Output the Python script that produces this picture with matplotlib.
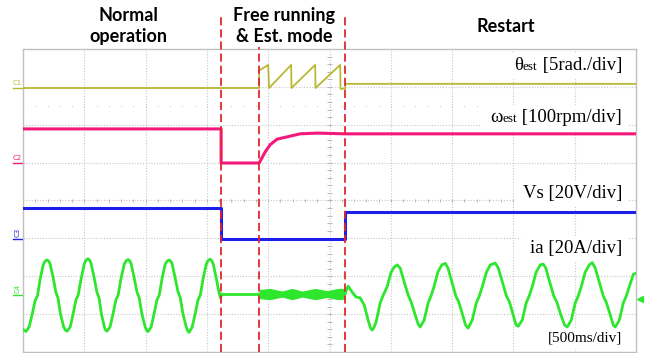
import numpy as np
import matplotlib.pyplot as plt
from matplotlib.patches import Rectangle
from matplotlib.transforms import Bbox

# scope capture: x in ms (500 ms/div, 10 div), y in screen divisions (8 div)
t_events = [1616, 1926, 2628]          # free running / estimation / restart
dash_top = [8.9, 8.05, 8.9]

# C1 theta_est
c1_t = [0, 1926, 1926, 2000, 2007, 2187, 2190, 2383, 2386, 2587, 2590, 2628, 2628, 5000]
c1_y = [6.97, 6.97, 7.43, 7.58, 6.97, 7.58, 6.97, 7.58, 6.97, 7.58, 6.95, 6.95, 7.08, 7.08]

# C2 omega_est
c2_t = [0, 1616, 1616, 1926, 1950, 1975, 2015, 2073, 2154, 2260, 2399, 2628, 5000]
c2_y = [5.89, 5.89, 4.99, 4.99, 5.13, 5.28, 5.47, 5.62, 5.68, 5.76, 5.78, 5.76, 5.76]

# C3 Vs
c3_t = [0, 1616, 1616, 2628, 2628, 5000]
c3_y = [3.80, 3.80, 2.98, 2.98, 3.69, 3.69]

# C4 ia
ia_normal = [(0, 0.60), (24, 0.54), (50, 0.66), (75, 1.00), (100, 1.37), (118, 1.48), (140, 1.93),
             (165, 2.30), (180, 2.40), (196, 2.43), (210, 2.40), (220, 2.33), (245, 1.98), (268, 1.58),
             (285, 1.43), (305, 1.02), (330, 0.68), (345, 0.58), (359, 0.55),
             (385, 0.66), (410, 1.02), (432, 1.38), (450, 1.50), (475, 1.95), (500, 2.33), (515, 2.43),
             (530, 2.46), (545, 2.42), (555, 2.34), (580, 1.97), (603, 1.58), (620, 1.43), (640, 1.00),
             (662, 0.68), (673, 0.58), (685, 0.55),
             (710, 0.66), (735, 1.02), (758, 1.38), (776, 1.50), (800, 1.95), (826, 2.32), (842, 2.41),
             (857, 2.44), (870, 2.41), (882, 2.33), (906, 1.97), (930, 1.58), (948, 1.43), (970, 1.00),
             (995, 0.68), (1008, 0.57), (1020, 0.54),
             (1045, 0.66), (1070, 1.02), (1093, 1.38), (1111, 1.50), (1135, 1.95), (1160, 2.32), (1176, 2.40),
             (1191, 2.43), (1204, 2.40), (1216, 2.33), (1240, 1.97), (1265, 1.58), (1283, 1.43), (1305, 1.00),
             (1330, 0.68), (1343, 0.56), (1355, 0.52),
             (1380, 0.66), (1405, 1.02), (1428, 1.38), (1446, 1.50), (1470, 1.95), (1495, 2.32), (1511, 2.42),
             (1526, 2.45), (1539, 2.41), (1551, 2.33), (1575, 1.97), (1600, 1.55), (1612, 1.42), (1616, 1.53)]
ia_off = [(1616, 1.53), (1926, 1.53)]
band_t = [1926, 2015, 2113, 2195, 2277, 2383, 2481, 2570, 2628]
band_mid = [1.53, 1.53, 1.53, 1.53, 1.53, 1.53, 1.53, 1.53, 1.54]
band_half = [0.12, 0.15, 0.08, 0.15, 0.08, 0.15, 0.09, 0.15, 0.14]
ia_restart = [(2628, 1.56), (2652, 1.74), (2685, 1.58), (2717, 1.45), (2750, 1.43), (2783, 1.24), (2815, 0.84),
              (2835, 0.63), (2848, 0.58), (2862, 0.64), (2880, 0.79), (2913, 1.29), (2938, 1.50), (2970, 1.72),
              (3003, 2.11), (3027, 2.24), (3052, 2.30), (3076, 2.22), (3109, 1.85), (3142, 1.50), (3166, 1.32),
              (3199, 0.98), (3223, 0.74), (3240, 0.66),
              (3272, 0.84), (3304, 1.29), (3328, 1.48), (3352, 1.72), (3384, 2.11), (3416, 2.30), (3444, 2.34),
              (3466, 2.22), (3498, 1.85), (3530, 1.48), (3554, 1.32), (3586, 0.98), (3610, 0.71), (3631, 0.63),
              (3664, 0.84), (3697, 1.29), (3722, 1.48), (3746, 1.72), (3780, 2.11), (3812, 2.30), (3852, 2.35),
              (3876, 2.22), (3910, 1.85), (3943, 1.48), (3968, 1.32), (3998, 0.98), (4022, 0.71), (4039, 0.68),
              (4072, 0.84), (4104, 1.29), (4129, 1.48), (4153, 1.72), (4186, 2.11), (4219, 2.30), (4243, 2.32),
              (4264, 2.22), (4296, 1.85), (4329, 1.48), (4354, 1.32), (4387, 0.98), (4418, 0.71), (4439, 0.66),
              (4472, 0.84), (4504, 1.29), (4529, 1.48), (4553, 1.72), (4586, 2.11), (4619, 2.30), (4643, 2.36),
              (4667, 2.22), (4700, 1.85), (4733, 1.48), (4757, 1.32), (4790, 0.98), (4815, 0.71), (4831, 0.66),
              (4864, 0.84), (4896, 1.29), (4921, 1.48), (4945, 1.72), (4978, 2.05), (5000, 2.08)]

ch_names = ["C1", "C2", "C3", "C4"]
ch_ref = [6.97, 4.99, 2.98, 1.50]
ch_rot = [0, 0, 90, 90]
colors = ["#b8b832", "#f5177a", "#1e1ee6", "#2ee62e"]
red = "#e0282e"
gridc = "#c8c8c8"

fig = plt.figure(figsize=(6.52, 3.53), dpi=100)
ax = fig.add_axes([23 / 652, 1 / 353, 613 / 652, 303 / 353])
ax.set_xlim(0, 5000)
ax.set_ylim(0, 8)
ax.set_xticks([])
ax.set_yticks([])
for s in ax.spines.values():
    s.set_color("#c0c0c0")
    s.set_linewidth(1.0)

# graticule
for k in range(1, 10):
    ax.axvline(k * 500, color=gridc, lw=0.8, ls=(0, (1, 1.5)), zorder=0.5)
for k in range(1, 8):
    ax.axhline(k, color=gridc, lw=0.8, ls=(0, (1, 1.5)), zorder=0.5)
xt = np.arange(0, 5001, 100)
ax.vlines(xt, 3.95, 4.05, color="#b8b8b8", lw=0.7, zorder=0.6)
yt = np.arange(0, 8.01, 0.2)
ax.hlines(yt, 2480, 2520, color="#b8b8b8", lw=0.7, zorder=0.6)
ax.plot(xt, np.full(len(xt), 6.5), ls="none", marker="o", ms=0.9, mew=0, color="#d0d0d0", zorder=0.6)

# traces
ax.plot(c1_t, c1_y, color=colors[0], lw=1.3, zorder=3)
ax.plot(c2_t, c2_y, color=colors[1], lw=2.2, zorder=3)
ax.plot(c3_t, c3_y, color=colors[2], lw=2.2, zorder=3)
for seg in (ia_normal, ia_off, ia_restart):
    tt, yy = np.array(seg).T
    ax.plot(tt, yy, color=colors[3], lw=2.0, zorder=3)
bm = np.array(band_mid)
bh = np.array(band_half)
ax.fill_between(band_t, bm - bh, bm + bh, color=colors[3], lw=0, zorder=3)
ax.plot(band_t, band_mid, color=colors[3], lw=2.0, zorder=3)

# channel markers
for name, ref, rot, c in zip(ch_names, ch_ref, ch_rot, colors):
    ax.plot([-80, 0], [ref, ref], color=c, lw=1.0, clip_on=False)
    ax.text(-45, ref + 0.06, name, color=c, fontsize=5, rotation=rot,
            ha="center", va="bottom", clip_on=False)
ax.plot([5035], [1.40], marker="<", ms=4, color=colors[3], clip_on=False)

# event lines
for t, top in zip(t_events, dash_top):
    ax.plot([t, t], [0, top], color=red, lw=1.3, ls=(0, (4.5, 2.2)), clip_on=False, zorder=6)

# headers
hdr = dict(fontsize=13, fontweight="bold", family="Lato", ha="center", va="center", linespacing=1.25)
fig.text(128 / 652, 1 - 26 / 353, "Normal\noperation", **hdr)
fig.text(284 / 652, 1 - 26 / 353, "Free running\n& Est. mode", **hdr)
fig.text(506 / 652, 1 - 26 / 353, "Restart", **hdr)

# scale labels (right aligned, white box behind)
fig.canvas.draw()
r = fig.canvas.get_renderer()
serif = "Liberation Serif"
labels = [("\u03b8", "est", " [5rad./div]", 7.45, 13.5),
          ("\u03c9", "est", " [100rpm/div]", 6.07, 13.5),
          ("", "", "Vs [20V/div]", 4.07, 13.5),
          ("", "", "ia [20A/div]", 2.61, 13.5),
          ("", "", "[500ms/div]", 0.27, 11)]
x_r = 4885
for greek, sub, rest, yb, fs in labels:
    parts = [(rest, fs), (sub, fs * 0.7), (greek, fs)]
    off = 0.0
    exts = []
    for txt, size in parts:
        if not txt:
            continue
        a = ax.annotate(txt, xy=(x_r, yb), xytext=(-off, 0), textcoords="offset points",
                        ha="right", va="baseline", fontsize=size, family=serif, zorder=7)
        e = a.get_window_extent(r)
        exts.append(e)
        off += e.width * 72 / fig.dpi
    bb = Bbox.union(exts)
    bb = Bbox.from_extents(bb.x0 - 9, bb.y0 - 4, bb.x1 + 6, bb.y1 + 4)
    (x0, y0), (x1, y1) = ax.transAxes.inverted().transform(bb.get_points())
    ax.add_patch(Rectangle((x0, y0), x1 - x0, y1 - y0, transform=ax.transAxes,
                           facecolor="white", edgecolor="none", zorder=1))

fig.savefig("out.png", dpi=100)
